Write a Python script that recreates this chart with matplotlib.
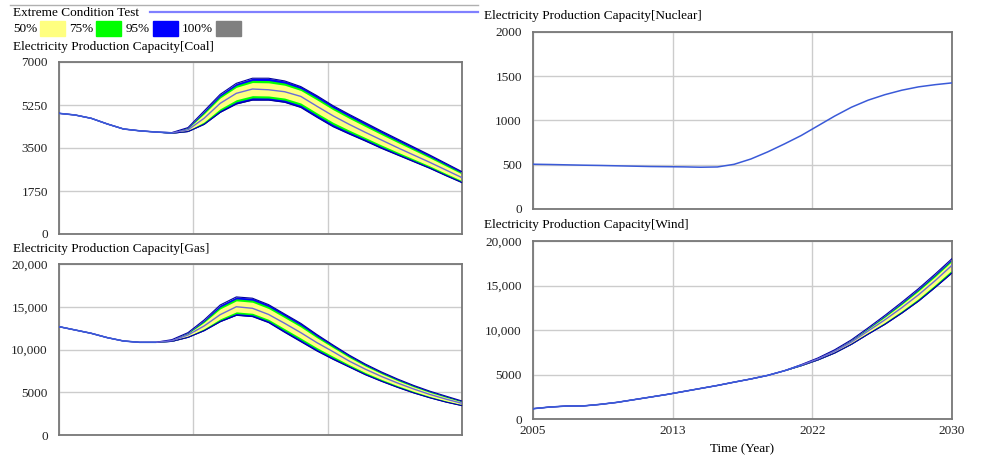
import numpy as np
import matplotlib
matplotlib.use("Agg")
import matplotlib.pyplot as plt

plt.rcParams['font.family'] = ['Liberation Serif', 'DejaVu Serif']
plt.rcParams['font.size'] = 9.5

years = np.arange(2005, 2031)

# Coal: median run and outer (100%) envelope
coal_mid = [4911, 4843, 4708, 4477, 4274, 4200, 4150, 4115, 4240, 4708, 5318, 5725, 5900,
            5870, 5790, 5600, 5200, 4810, 4463, 4138, 3826, 3514, 3215, 2917, 2605, 2293]
coal_hi = [4911, 4843, 4708, 4477, 4274, 4200, 4150, 4128, 4330, 5006, 5684, 6132, 6340,
           6340, 6230, 6000, 5630, 5223, 4870, 4531, 4192, 3866, 3541, 3215, 2876, 2537]
coal_lo = [4911, 4843, 4708, 4477, 4274, 4200, 4150, 4100, 4170, 4463, 4952, 5291, 5450,
           5450, 5360, 5150, 4750, 4368, 4070, 3785, 3487, 3215, 2944, 2673, 2374, 2089]

gas_mid = [12672, 12282, 11892, 11385, 10995, 10839, 10839, 11034, 11697, 12750, 14075, 15000, 14820,
           14100, 13061, 11970, 10800, 9748, 8650, 7700, 6850, 6080, 5380, 4750, 4200, 3704]
gas_hi = [12672, 12282, 11892, 11385, 10995, 10839, 10850, 11150, 11970, 13452, 15206, 16150, 16000,
          15250, 14153, 13062, 11750, 10527, 9350, 8300, 7380, 6550, 5800, 5130, 4550, 3977]
gas_lo = [12672, 12282, 11892, 11385, 10995, 10839, 10830, 10950, 11424, 12204, 13257, 14000, 13850,
          13150, 12009, 10917, 9825, 8851, 7950, 7050, 6280, 5570, 4920, 4350, 3850, 3431]

nuclear_mid = [506, 503, 499, 495, 492, 488, 484, 480, 478, 476, 472, 475, 505,
               565, 645, 735, 830, 940, 1050, 1150, 1230, 1292, 1342, 1380, 1405, 1425]

wind_mid = [1157, 1343, 1455, 1470, 1642, 1866, 2164, 2462, 2761, 3097, 3433, 3768, 4141,
            4500, 4900, 5420, 6050, 6750, 7600, 8650, 9900, 11150, 12500, 13950, 15550, 17275]
wind_hi = [1157, 1343, 1455, 1470, 1642, 1866, 2164, 2462, 2761, 3097, 3433, 3768, 4141,
           4500, 4900, 5420, 6110, 6860, 7780, 8900, 10250, 11650, 13120, 14650, 16300, 18021]
wind_lo = [1157, 1343, 1455, 1470, 1642, 1866, 2164, 2462, 2761, 3097, 3433, 3768, 4141,
           4500, 4900, 5420, 5990, 6640, 7420, 8400, 9550, 10650, 11900, 13250, 14800, 16416]

legend_labels = ["50%", "75%", "95%", "100%"]
band_colors = ["#ffff80", "#00ff00", "#0000ff", "#808080"]
band_fracs = [0.6, 0.8, 0.98, 1.0]

W, H = 981, 455
fig = plt.figure(figsize=(W / 100, H / 100), dpi=100)


def px_axes(left, top, right, bottom):
    return fig.add_axes([left / W, 1 - bottom / H, (right - left) / W, (bottom - top) / H])


def ftext(x, y, s, **kw):
    fig.text(x / W, 1 - y / H, s, va="center", **kw)


def setup(ax, ymax, yticks, ylabels, show_x):
    ax.set_xlim(2005, 2030)
    ax.set_ylim(0, ymax)
    xt = [2005, 2005 + 25 / 3, 2005 + 50 / 3, 2030]
    ax.set_xticks(xt)
    ax.set_yticks(yticks)
    ax.set_yticklabels(ylabels)
    if show_x:
        ax.set_xticklabels(["2005", "2013", "2022", "2030"])
        ax.set_xlabel("Time (Year)", labelpad=5)
    else:
        ax.set_xticklabels([])
    ax.tick_params(length=0, pad=8, colors="#222222")
    ax.tick_params(axis="x", pad=4)
    ax.grid(True, color="#cccccc", linewidth=1)
    ax.set_axisbelow(True)
    for s in ax.spines.values():
        s.set_color("#777777")
        s.set_linewidth(1.3)


def draw(ax, mid, lo=None, hi=None):
    mid = np.array(mid, float)
    if lo is not None:
        lo = np.array(lo, float)
        hi = np.array(hi, float)
        for frac, col in reversed(list(zip(band_fracs, band_colors))):
            up = mid + frac * (hi - mid)
            dn = mid - frac * (mid - lo)
            ax.fill_between(years, dn, up, color=col, linewidth=0, zorder=2)
        ax.plot(years, hi, color="#0000a0", linewidth=0.8, zorder=3)
        ax.plot(years, lo, color="#0000a0", linewidth=0.8, zorder=3)
        ax.plot(years, mid, color="#6a6ad8", linewidth=1, zorder=4)
        # before the spread opens, the run shows as a single blue line
        same = np.isclose(lo, hi)
        n = int(np.argmin(same)) + 1
        ax.plot(years[:n], mid[:n], color="#3a5ad8", linewidth=1.1, zorder=5)
    else:
        ax.plot(years, mid, color="#3a5ad8", linewidth=1.1, zorder=4)


ax_coal = px_axes(59, 62, 462, 234)
setup(ax_coal, 7000, [0, 1750, 3500, 5250, 7000], ["0", "1750", "3500", "5250", "7000"], False)
draw(ax_coal, coal_mid, coal_lo, coal_hi)

ax_gas = px_axes(59, 264, 462, 435)
setup(ax_gas, 20000, [0, 5000, 10000, 15000, 20000], ["0", "5000", "10,000", "15,000", "20,000"], False)
draw(ax_gas, gas_mid, gas_lo, gas_hi)

ax_nuc = px_axes(533, 32, 952, 209)
setup(ax_nuc, 2000, [0, 500, 1000, 1500, 2000], ["0", "500", "1000", "1500", "2000"], False)
draw(ax_nuc, nuclear_mid)

ax_wind = px_axes(533, 241, 952, 419)
setup(ax_wind, 20000, [0, 5000, 10000, 15000, 20000], ["0", "5000", "10,000", "15,000", "20,000"], True)
draw(ax_wind, wind_mid, wind_lo, wind_hi)

# header and legend
fig.add_artist(plt.Line2D([10 / W, 478 / W], [1 - 5 / H, 1 - 5 / H], color="#b0b0b0", linewidth=1))
fig.add_artist(plt.Line2D([150 / W, 478 / W], [1 - 12 / H, 1 - 12 / H], color="#8080ff", linewidth=1.6))
ftext(13, 13, "Extreme Condition Test")
label_x = [13, 69, 126, 182]
swatch_x = [40, 96, 153, 216]
for lab, lx, sx, col in zip(legend_labels, label_x, swatch_x, band_colors):
    ftext(lx, 29, lab)
    fig.add_artist(plt.Rectangle((sx / W, 1 - 36 / H), 25 / W, 15 / H, color=col, transform=fig.transFigure))

ftext(13, 47, "Electricity Production Capacity[Coal]")
ftext(13, 249, "Electricity Production Capacity[Gas]")
ftext(484, 16, "Electricity Production Capacity[Nuclear]")
ftext(484, 225, "Electricity Production Capacity[Wind]")

fig.savefig("out.png", dpi=100)
